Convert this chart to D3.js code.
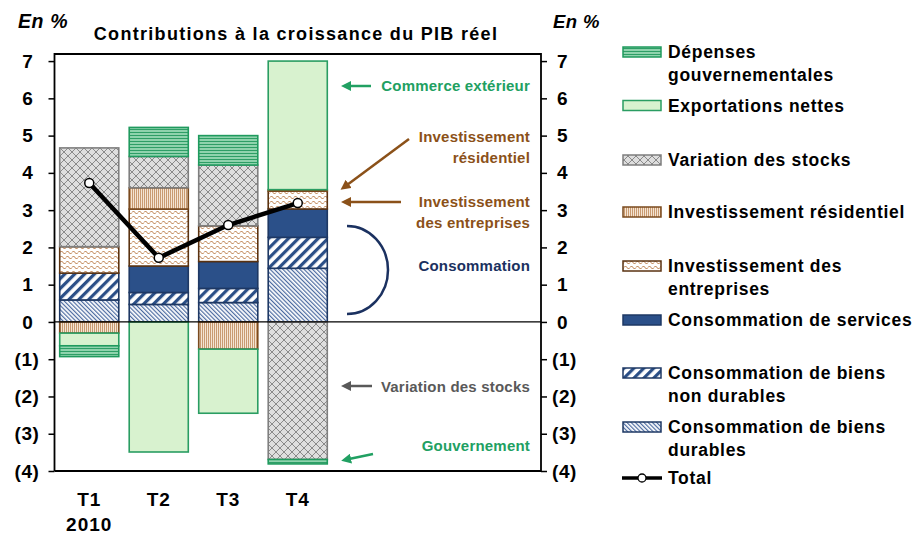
<!DOCTYPE html>
<html><head><meta charset="utf-8">
<script src="https://cdn.jsdelivr.net/npm/d3@7"></script>
<style>
body{margin:0;background:#fff;}
text{font-family:"Liberation Sans",Arial,sans-serif;font-weight:bold;}
</style></head>
<body><svg id="c" width="916" height="537"></svg>
<script>
// ---- data ----
const categories = ["T1","T2","T3","T4"];
const seriesKeys = ["durables","nondurables","services","bizinv","residential","stocks","netexports","government"];
const durables    = [0.59, 0.47, 0.52, 1.44];
const nondurables = [0.72, 0.32, 0.38, 0.83];
const services    = [0.00, 0.71, 0.72, 0.76];
const bizinv      = [0.71, 1.53, 0.96, 0.48];
const residential = [-0.30, 0.57, -0.73, 0.04];
const stocks      = [2.65, 0.84, 1.63, -3.69];
const netexports  = [-0.34, -3.49, -1.72, 3.45];
const government  = [-0.29, 0.78, 0.79, -0.12];
const total       = [3.73, 1.72, 2.60, 3.19];
const yTicks = [-4,-3,-2,-1,0,1,2,3,4,5,6,7];
const legendLabels = [
  ["government", ["Dépenses","gouvernementales"]],
  ["netexports", ["Exportations nettes"]],
  ["stocks", ["Variation des stocks"]],
  ["residential", ["Investissement résidentiel"]],
  ["bizinv", ["Investissement des","entreprises"]],
  ["services", ["Consommation de services"]],
  ["nondurables", ["Consommation de biens","non durables"]],
  ["durables", ["Consommation de biens","durables"]],
  ["total", ["Total"]]
];

const seriesData = {durables, nondurables, services, bizinv, residential, stocks, netexports, government};
const rows = categories.map((c,i)=>{const r={cat:c}; seriesKeys.forEach(k=>r[k]=seriesData[k][i]); return r;});

const svg = d3.select("#c");
const L = 54.5, R = 541, T = 54, B = 471;
const slot = (R-L)/7;
const x = d3.scaleBand().domain(categories).range([L, L+4*slot]).paddingInner(0.15).paddingOuter(0.075);
const y = d3.scaleLinear().domain([-4, 7.19]).range([B, T]);

// ---- patterns ----
const defs = svg.append("defs");
function pat(id, w, h, bg, draw, transform){
  const p = defs.append("pattern").attr("id",id).attr("patternUnits","userSpaceOnUse").attr("width",w).attr("height",h);
  if(transform) p.attr("patternTransform",transform);
  p.append("rect").attr("width",w).attr("height",h).attr("fill",bg);
  draw(p);
}
pat("pGov",4,3,"#8fd3ad",p=>p.append("rect").attr("y",0).attr("width",4).attr("height",1).attr("fill","#2e9e66"));
pat("pStk",8,8,"#dedede",p=>p.append("path").attr("d","M0,0L8,8M8,0L0,8").attr("stroke","#8a8a8a").attr("stroke-width",1).attr("fill","none"));
pat("pRes",2,2,"#f4e4d3",p=>p.append("rect").attr("width",1).attr("height",2).attr("fill","#c99a70"));
pat("pBiz",6,5,"#ffffff",p=>p.append("path").attr("d","M0,2.5L1.5,1L3,2.5L4.5,4L6,2.5").attr("stroke","#b5713a").attr("stroke-width",1).attr("fill","none"));
pat("pNon",7,7,"#ffffff",p=>p.append("rect").attr("width",3.2).attr("height",7).attr("fill","#2b4f87"),"rotate(45)");
pat("pDur",3,3,"#ffffff",p=>p.append("rect").attr("width",1.2).attr("height",3).attr("fill","#4b6aa0"),"rotate(-45)");

const style = {
  government:{fill:"url(#pGov)", stroke:"#1f9a5e"},
  netexports:{fill:"#d8f2cf", stroke:"#2a9d62"},
  stocks:{fill:"url(#pStk)", stroke:"#7f7f7f"},
  residential:{fill:"url(#pRes)", stroke:"#7a4a1e"},
  bizinv:{fill:"url(#pBiz)", stroke:"#5a3210"},
  services:{fill:"#2b5089", stroke:"#1e3864"},
  nondurables:{fill:"url(#pNon)", stroke:"#1e3864"},
  durables:{fill:"url(#pDur)", stroke:"#1e3864"}
};

// ---- bars ----
const stack = d3.stack().keys(seriesKeys).offset(d3.stackOffsetDiverging);
const layers = stack(rows);
const gBars = svg.append("g");
layers.forEach(layer=>{
  const st = style[layer.key];
  gBars.selectAll(null).data(layer.filter(d=>Math.abs(d[1]-d[0])>1e-9)).join("rect")
    .attr("x", d=>x(d.data.cat))
    .attr("width", x.bandwidth())
    .attr("y", d=>y(Math.max(d[0],d[1])))
    .attr("height", d=>Math.abs(y(d[0])-y(d[1])))
    .attr("fill", st.fill).attr("stroke", st.stroke).attr("stroke-width",1.6);
});

// ---- frame & axes ----
svg.append("line").attr("x1",L).attr("x2",R).attr("y1",y(0)).attr("y2",y(0)).attr("stroke","#000").attr("stroke-width",1.3);
svg.append("path").attr("d",`M${L},${B}V${T}H${R}V${B}`).attr("fill","none").attr("stroke","#000").attr("stroke-width",1.8);
svg.append("line").attr("x1",L).attr("x2",R).attr("y1",B).attr("y2",B).attr("stroke","#000").attr("stroke-width",1.8);

const fmt = v => v<0 ? `(${-v})` : `${v}`;
const axL = d3.axisLeft(y).tickValues(yTicks).tickSize(6).tickFormat(fmt);
const gl = svg.append("g").attr("transform",`translate(${L},0)`).call(axL);
gl.select(".domain").remove();
gl.selectAll(".tick line").attr("stroke","#000").attr("stroke-width",1.5);
gl.selectAll(".tick text").attr("font-size",19).attr("letter-spacing",0.6).attr("fill","#000").attr("font-family","Liberation Sans, Arial, sans-serif")
  .attr("x", d=>d<0?-15:-21);
const axR = d3.axisRight(y).tickValues(yTicks).tickSize(6).tickFormat(fmt);
const gr = svg.append("g").attr("transform",`translate(${R},0)`).call(axR);
gr.select(".domain").remove();
gr.selectAll(".tick line").attr("stroke","#000").attr("stroke-width",1.5);
gr.selectAll(".tick text").attr("font-size",19).attr("letter-spacing",0.6).attr("fill","#000").attr("font-family","Liberation Sans, Arial, sans-serif")
  .attr("x", d=>d<0?11:16);

// x labels
svg.selectAll(null).data(categories).join("text")
  .attr("x", d=>x(d)+x.bandwidth()/2).attr("y",506).attr("text-anchor","middle").attr("font-size",19).attr("letter-spacing",0.8).text(d=>d);
svg.append("text").attr("x",x("T1")+x.bandwidth()/2).attr("y",531).attr("text-anchor","middle").attr("font-size",19).attr("letter-spacing",1).text("2010");

// ---- total line ----
const line = d3.line().x((d,i)=>x(categories[i])+x.bandwidth()/2).y(d=>y(d));
svg.append("path").attr("d",line(total)).attr("fill","none").attr("stroke","#000").attr("stroke-width",4.5).attr("stroke-linejoin","round");
svg.selectAll(null).data(total).join("circle")
  .attr("cx",(d,i)=>x(categories[i])+x.bandwidth()/2).attr("cy",d=>y(d)).attr("r",4.5)
  .attr("fill","#fff").attr("stroke","#000").attr("stroke-width",1.5);

// ---- titles ----
svg.append("text").attr("x",296).attr("y",40).attr("text-anchor","middle").attr("font-size",18).attr("letter-spacing",1.3).text("Contributions à la croissance du PIB réel");
svg.append("text").attr("x",18).attr("y",28).attr("font-size",19.5).attr("letter-spacing",0.6).attr("font-style","italic").text("En %");
svg.append("text").attr("x",553).attr("y",28).attr("font-size",18.5).attr("letter-spacing",0.4).attr("font-style","italic").text("En %");

// ---- annotations ----
const cols = {green:"#21a062", brown:"#8b5119", navy:"#1b3160", grey:"#595959"};
Object.entries(cols).forEach(([k,c])=>{
  defs.append("marker").attr("id","ah-"+k).attr("viewBox","0 0 10 10").attr("refX",2).attr("refY",5)
    .attr("markerWidth",4).attr("markerHeight",4).attr("orient","auto-start-reverse")
    .append("path").attr("d","M0,0L10,5L0,10z").attr("fill",c);
});
function arrow(x1,y1,x2,y2,c){
  svg.append("line").attr("x1",x1).attr("y1",y1).attr("x2",x2).attr("y2",y2)
    .attr("stroke",cols[c]).attr("stroke-width",2.5).attr("marker-end",`url(#ah-${c})`);
}
function note(lines,yy,c){
  const t = svg.append("text").attr("text-anchor","end").attr("font-size",15).attr("letter-spacing",0.2).attr("fill",cols[c]);
  lines.forEach((s,i)=>t.append("tspan").attr("x",530).attr("y",yy+i*21).text(s));
}
note(["Commerce extérieur"],91,"green"); arrow(371,86,349,86,"green");
note(["Investissement","résidentiel"],142,"brown"); arrow(409,139,347,185,"brown");
note(["Investissement","des entreprises"],207,"brown"); arrow(401,202,349,202,"brown");
svg.append("path").attr("d","M347,226A41,44 0 0 1 347,314").attr("fill","none").attr("stroke",cols.navy).attr("stroke-width",2.5);
note(["Consommation"],271,"navy");
note(["Variation des stocks"],392,"grey"); arrow(372,386,349,386,"grey");
note(["Gouvernement"],451,"green"); arrow(373,454,349,459,"green");

// ---- legend ----
const legY = {government:52, netexports:105.5, stocks:160, residential:212, bizinv:266, services:320, nondurables:373, durables:427, total:478};
const gL = svg.append("g");
legendLabels.forEach(([k,lines])=>{
  const cy = legY[k];
  if(k==="total"){
    gL.append("line").attr("x1",622).attr("x2",662).attr("y1",cy).attr("y2",cy).attr("stroke","#000").attr("stroke-width",3.5);
    gL.append("circle").attr("cx",642).attr("cy",cy).attr("r",4).attr("fill","#fff").attr("stroke","#000").attr("stroke-width",1.3);
  } else {
    gL.append("rect").attr("x",623).attr("y",cy-5).attr("width",38).attr("height",10)
      .attr("fill",style[k].fill).attr("stroke",style[k].stroke).attr("stroke-width",1.5);
  }
  const t = gL.append("text").attr("font-size",17.5).attr("letter-spacing",0.7).attr("fill","#000");
  lines.forEach((s,i)=>t.append("tspan").attr("x",668).attr("y",cy+6+i*23).text(s));
});
</script></body></html>
